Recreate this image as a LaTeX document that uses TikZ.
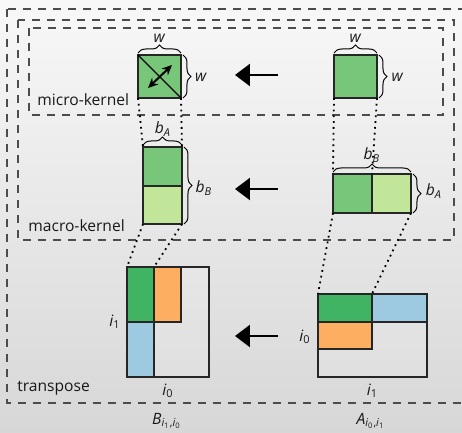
\documentclass[tikz,border=0pt]{standalone}
\usepackage{fontspec}
\setmainfont{Open Sans}
\usetikzlibrary{arrows.meta,decorations.pathreplacing}
\definecolor{midgreen}{RGB}{120,198,121}
\definecolor{ltgreen}{RGB}{194,230,153}
\definecolor{dkgreen}{RGB}{65,180,100}
\definecolor{tporange}{RGB}{253,174,97}
\definecolor{tpblue}{RGB}{158,202,225}
\definecolor{bgtop}{RGB}{248,248,248}
\definecolor{bgbot}{RGB}{215,215,215}
\newcommand{\ix}[1]{\textit{i}\textsubscript{#1}}
\newcommand{\bx}[1]{\textit{b}\textsubscript{\textit{#1}}}

\begin{document}
\begin{tikzpicture}[x=0.5pt,y=-0.5pt,
  blk/.style={draw=black!85, line width=0.6pt, inner sep=0pt, outer sep=0pt, anchor=north west},
  box/.style={draw=black!70, line width=0.6pt, dash pattern=on 4pt off 3.5pt},
  dots/.style={line width=0.9pt, dotted},
  brc/.style={decorate, decoration={brace, amplitude=4pt}, line width=0.5pt},
  bigarrow/.style={line width=1.3pt, -{Triangle[length=7.5pt,width=11pt]}},
  lbl/.style={font=\fontsize{7.8}{9}\selectfont, inner sep=0pt, text=black!90}]
\useasboundingbox (0,0) rectangle (462,433);
\clip (0,0) rectangle (462,433);
\shade [top color=bgtop, bottom color=bgbot] (0,0) rectangle (462,433);
%% dashed frames
\draw [box] (7,9) rectangle (480,403);
\draw [box] (18,20) rectangle (454,240);
\draw [box] (29,28) rectangle (443,115);
\node [lbl, anchor=west] (tmicro) at (37,100) {micro-kernel};
\node [lbl, anchor=west] (tmacro) at (28,226) {macro-kernel};
\node [lbl, anchor=west] (ttrans) at (17,388) {transpose};
%% micro-kernel
\node [blk, fill=midgreen, minimum width=21.5pt, minimum height=21.5pt] (microB) at (138,55) {};
\node [blk, fill=midgreen, minimum width=21.5pt, minimum height=21.5pt] (microA) at (334,55) {};
\draw [line width=0.6pt] (microB.north west) -- (microB.south east);
\coordinate (swapS) at (148,88);
\coordinate (swapE) at (172,65);
\draw [line width=1pt, {Stealth[length=5pt,width=4.5pt]}-{Stealth[length=5pt,width=4.5pt]}] (swapS) -- (swapE);
\draw [brc] ([yshift=1pt]microB.north west) -- ([yshift=1pt]microB.north east);
\draw [brc] ([xshift=1pt]microB.north east) -- ([xshift=1pt]microB.south east);
\draw [brc] ([yshift=1pt]microA.north west) -- ([yshift=1pt]microA.north east);
\draw [brc] ([xshift=1pt]microA.north east) -- ([xshift=1pt]microA.south east);
\node [lbl] (wBtop) at (159.5,38) {\textit{w}};
\node [lbl] (wBright) at (201,77) {\textit{w}};
\node [lbl] (wAtop) at (355.5,38) {\textit{w}};
\node [lbl] (wAright) at (397.5,77) {\textit{w}};
%% macro-kernel
\node [blk, fill=midgreen, minimum width=19.5pt, minimum height=19.5pt] (macBtop) at (143,147) {};
\node [blk, fill=ltgreen, minimum width=19.5pt, minimum height=19pt] (macBbot) at (143,186) {};
\node [blk, fill=midgreen, minimum width=19.5pt, minimum height=19.5pt] (macAleft) at (333,174) {};
\node [blk, fill=ltgreen, minimum width=19.5pt, minimum height=19.5pt] (macAright) at (372,174) {};
\draw [brc] ([yshift=1pt]macBtop.north west) -- ([yshift=1pt]macBtop.north east);
\draw [brc] ([xshift=1pt]macBtop.north east) -- ([xshift=1pt]macBbot.south east);
\draw [brc] ([yshift=1pt]macAleft.north west) -- ([yshift=1pt]macAright.north east);
\draw [brc] ([xshift=1pt]macAright.north east) -- ([xshift=1pt]macAright.south east);
\node [lbl] (bAleft) at (163,129) {\bx{A}};
\node [lbl] (bBleft) at (204,188) {\bx{B}};
\node [lbl] (bBright) at (372,155) {\bx{B}};
\node [lbl] (bAright) at (434,191) {\bx{A}};
%% transpose (whole matrices)
\node [blk, fill=white, fill opacity=0.12, minimum width=41pt, minimum height=55pt] (matB) at (127,267) {};
\node [blk, fill=dkgreen, minimum width=13.5pt, minimum height=27.5pt] (Bgreen) at (127,267) {};
\node [blk, fill=tporange, minimum width=13.5pt, minimum height=27.5pt] (Borange) at (154,267) {};
\node [blk, fill=tpblue, minimum width=13.5pt, minimum height=27.5pt] (Bblue) at (127,322) {};
\node [blk, fill=white, fill opacity=0.12, minimum width=54.5pt, minimum height=41.5pt] (matA) at (318,294) {};
\node [blk, fill=dkgreen, minimum width=27pt, minimum height=14pt] (Agreen) at (318,294) {};
\node [blk, fill=tpblue, minimum width=27.5pt, minimum height=14pt] (Ablue) at (372,294) {};
\node [blk, fill=tporange, minimum width=27pt, minimum height=13.5pt] (Aorange) at (318,322) {};
\node [lbl] (iBleft) at (115,322) {\ix{1}};
\node [lbl] (iBbelow) at (168,391) {\ix{0}};
\node [lbl] (iAleft) at (305,337) {\ix{0}};
\node [lbl] (iAbelow) at (372.5,391) {\ix{1}};
\node [lbl] (nameB) at (167,421) {\textit{B}\textsubscript{\textit{i}\textsubscript{1},\textit{i}\textsubscript{0}}};
\node [lbl] (nameA) at (371,421) {\textit{A}\textsubscript{\textit{i}\textsubscript{0},\textit{i}\textsubscript{1}}};
%% dotted guides
\draw [dots] (microB.south west) -- (macBtop.north west);
\draw [dots] (microB.south east) -- (macBtop.north east);
\draw [dots] (microA.south west) -- (macAleft.north west);
\draw [dots] (microA.south east) -- (macAleft.north east);
\draw [dots] (macBbot.south west) -- (Bgreen.north west);
\draw [dots] (macBbot.south east) -- (Bgreen.north east);
\draw [dots] (macAleft.south west) -- (Agreen.north west);
\draw [dots] (macAright.south east) -- (Agreen.north east);
%% big arrows
\coordinate (arr1s) at (278,75);  \coordinate (arr1e) at (235,75);
\coordinate (arr2s) at (278,189); \coordinate (arr2e) at (235,189);
\coordinate (arr3s) at (278,336); \coordinate (arr3e) at (235,336);
\draw [bigarrow] (arr1s) -- (arr1e);
\draw [bigarrow] (arr2s) -- (arr2e);
\draw [bigarrow] (arr3s) -- (arr3e);
\end{tikzpicture}
\end{document}
